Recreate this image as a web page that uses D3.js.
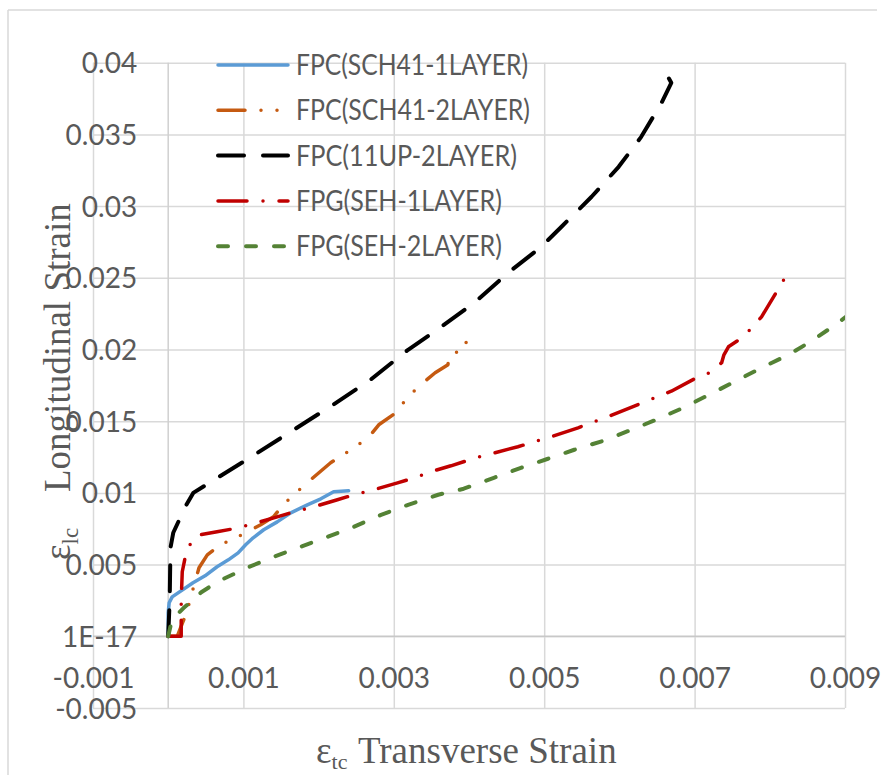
<!DOCTYPE html>
<html>
<head>
<meta charset="utf-8">
<script src="https://cdn.jsdelivr.net/npm/d3@7"></script>
<style>
  html, body { margin: 0; padding: 0; background: #fff; }
  svg { display: block; }
</style>
</head>
<body>
<svg id="chart" width="886" height="775"></svg>
<script>
// ---------------- data ----------------
const xTicks = [-0.001, 0.001, 0.003, 0.005, 0.007, 0.009];
const xTickLabels = ["-0.001", "0.001", "0.003", "0.005", "0.007", "0.009"];
const yTicks = [-0.005, 0, 0.005, 0.01, 0.015, 0.02, 0.025, 0.03, 0.035, 0.04];
const yTickLabels = ["-0.005", "1E-17", "0.005", "0.01", "0.015", "0.02", "0.025", "0.03", "0.035", "0.04"];

const seriesNames = ["FPC(SCH41-1LAYER)", "FPC(SCH41-2LAYER)", "FPC(11UP-2LAYER)", "FPG(SEH-1LAYER)", "FPG(SEH-2LAYER)"];

const sch41_1 = [[0,0],[0,0.00164],[0.000013,0.00234],[0.000053,0.00275],[0.00033,0.00373],[0.00049,0.00422],[0.00065,0.00485],[0.0008,0.00533],[0.00093,0.00582],[0.00103,0.00638],[0.00113,0.00687],[0.00127,0.00743],[0.00145,0.00798],[0.00163,0.00861],[0.00185,0.00917],[0.00203,0.00959],[0.0022,0.01008],[0.0024,0.01015]];

const sch41_2 = [[0,0],[0.00012,0],[0.00019,0.00094],[0.00025,0.00171],[0.00029,0.00255],[0.00035,0.00367],[0.00041,0.00478],[0.00052,0.00568],[0.00069,0.00638],[0.00085,0.00673],[0.00103,0.00722],[0.00123,0.00778],[0.0014,0.00833],[0.00153,0.00917],[0.00167,0.00987],[0.00183,0.01063],[0.00216,0.0121],[0.00249,0.01322],[0.00267,0.01391],[0.0028,0.01475],[0.00299,0.01545],[0.00323,0.01691],[0.00339,0.01768],[0.00355,0.01838],[0.00372,0.01894],[0.00373,0.01949],[0.0038,0.01963],[0.00387,0.01998],[0.00387,0.02033],[0.00407,0.02068]];

const up11_2 = [[0,0],[0.00002,0.00255],[0.00003,0.00617],[0.000067,0.00722],[0.000227,0.00903],[0.000333,0.01],[0.000653,0.01105],[0.001,0.01217],[0.00119,0.0128],[0.00167,0.0144],[0.00219,0.01614],[0.00269,0.01789],[0.00319,0.01998],[0.00363,0.02158],[0.00407,0.02326],[0.00452,0.02535],[0.00496,0.02716],[0.00523,0.02856],[0.00563,0.03065],[0.00599,0.03274],[0.00629,0.03483],[0.00656,0.0372],[0.00669,0.0386],[0.00663,0.03917]];

const seh_1 = [[0,0],[0.000173,0],[0.000173,0.00255],[0.000187,0.0045],[0.000227,0.00554],[0.00029,0.00638],[0.00033,0.0068],[0.00043,0.00708],[0.00065,0.00729],[0.00087,0.0075],[0.00109,0.00778],[0.00145,0.00833],[0.00167,0.00868],[0.00189,0.00896],[0.00225,0.00952],[0.00247,0.00987],[0.00269,0.01015],[0.00305,0.0107],[0.00327,0.01105],[0.00349,0.01147],[0.00376,0.01189],[0.00409,0.01245],[0.00465,0.01322],[0.00509,0.01391],[0.00545,0.01454],[0.00589,0.0154],[0.00629,0.01625],[0.00669,0.01709],[0.007,0.01796],[0.0072,0.01838],[0.00736,0.01908],[0.00739,0.01963],[0.00745,0.02019],[0.00759,0.02068],[0.00775,0.02144],[0.00789,0.02228],[0.00809,0.02402],[0.00821,0.02507]];

const seh_2 = [[0,0],[0.00005,0.00115],[0.0002,0.00195],[0.00044,0.00307],[0.00067,0.00385],[0.00105,0.00478],[0.0014,0.00554],[0.00176,0.00624],[0.00212,0.00694],[0.00247,0.00764],[0.00283,0.00847],[0.00319,0.00917],[0.00359,0.00987],[0.00393,0.01029],[0.00433,0.01105],[0.00469,0.01175],[0.00505,0.01238],[0.0054,0.01301],[0.00579,0.01364],[0.00616,0.0144],[0.00652,0.01517],[0.00685,0.01594],[0.00719,0.01684],[0.00753,0.01775],[0.00789,0.01873],[0.00825,0.01963],[0.00856,0.02061],[0.00887,0.02172],[0.00903,0.02235]];

// ---------------- styles ----------------
const styles = [
  { color: "#5B9BD5", width: 3.5, dash: null },
  { color: "#C55A11", width: 3.5, dash: "27,16,0,16,0,17" },
  { color: "#000000", width: 4,   dash: "26,19" },
  { color: "#C00000", width: 3.5, dash: "29,16,0,16" },
  { color: "#548235", width: 4,   dash: "10,18" }
];
const allSeries = [sch41_1, sch41_2, up11_2, seh_1, seh_2];

// ---------------- layout ----------------
const svg = d3.select("#chart");
const plot = { left: 93, right: 845, top: 62.7, bottom: 708 };
const x = d3.scaleLinear().domain([-0.001, 0.009]).range([plot.left, plot.right]);
const y = d3.scaleLinear().domain([-0.005, 0.04]).range([plot.bottom, plot.top]);

const tickFont = "Lato, 'Open Sans', sans-serif";
const textColor = "#595959";
const gridColor = "#d9d9d9";

// chart border (top + left visible)
svg.append("line").attr("x1", 8).attr("y1", 10).attr("x2", 877).attr("y2", 10)
  .attr("stroke", gridColor).attr("stroke-width", 1.5);
svg.append("line").attr("x1", 8).attr("y1", 10).attr("x2", 8).attr("y2", 775)
  .attr("stroke", gridColor).attr("stroke-width", 1.5);

// horizontal gridlines
const gy = svg.append("g").attr("transform", `translate(${plot.left},0)`)
  .call(d3.axisLeft(y).tickValues(yTicks).tickSize(-(plot.right - plot.left)).tickFormat(""));
gy.select(".domain").remove();
gy.selectAll(".tick line").attr("stroke", gridColor).attr("stroke-width", 1.5);

// vertical gridlines
const gx = svg.append("g").attr("transform", `translate(0,${plot.bottom})`)
  .call(d3.axisBottom(x).tickValues(xTicks).tickSize(-(plot.bottom - plot.top)).tickFormat(""));
gx.select(".domain").remove();
gx.selectAll(".tick line").attr("stroke", gridColor).attr("stroke-width", 1.5);

// axis lines at zero
svg.append("line").attr("x1", x(0)).attr("x2", x(0)).attr("y1", plot.top).attr("y2", plot.bottom)
  .attr("stroke", "#d0d0d0").attr("stroke-width", 1.5);
svg.append("line").attr("x1", plot.left).attr("x2", plot.right).attr("y1", y(0)).attr("y2", y(0))
  .attr("stroke", "#c8c8c8").attr("stroke-width", 1.5);

// y tick labels (next to y axis at x=0)
const ya = svg.append("g").attr("transform", `translate(${x(0)},0)`)
  .call(d3.axisLeft(y).tickValues(yTicks).tickSize(0).tickPadding(31)
    .tickFormat((d, i) => yTickLabels[i]));
ya.select(".domain").remove();
ya.selectAll("text").attr("font-family", tickFont).attr("font-size", 28)
  .attr("fill", textColor).attr("dy", "0.36em");

// x tick labels
const xa = svg.append("g").attr("transform", `translate(0,${y(0)})`)
  .call(d3.axisBottom(x).tickValues(xTicks).tickSize(0).tickFormat((d, i) => xTickLabels[i]));
xa.select(".domain").remove();
xa.selectAll("text").attr("font-family", tickFont).attr("font-size", 28)
  .attr("fill", textColor).attr("dy", null).attr("y", 688 - y(0));

// clip
svg.append("clipPath").attr("id", "clip").append("rect")
  .attr("x", plot.left).attr("y", plot.top - 20)
  .attr("width", plot.right - plot.left).attr("height", plot.bottom - plot.top + 20);

// series
const line = d3.line().x(d => x(d[0])).y(d => y(d[1]));
const lines = svg.append("g").attr("clip-path", "url(#clip)");
allSeries.forEach((s, i) => {
  const st = styles[i];
  lines.append("path").datum(s).attr("d", line)
    .attr("fill", "none").attr("stroke", st.color).attr("stroke-width", st.width)
    .attr("stroke-linecap", "round").attr("stroke-linejoin", "round")
    .attr("stroke-dasharray", st.dash);
});

// legend
const legendTargets = [232, 234, 221, 206, 206];
const lg = svg.append("g");
seriesNames.forEach((name, i) => {
  const st = styles[i];
  const ly = 65 + i * 45.3;
  lg.append("line").attr("x1", 218).attr("x2", 288).attr("y1", ly).attr("y2", ly)
    .attr("stroke", st.color).attr("stroke-width", st.width)
    .attr("stroke-linecap", "round").attr("stroke-dasharray", st.dash);
  const t = lg.append("text").attr("x", 296).attr("y", ly).attr("dy", "0.36em")
    .attr("font-family", tickFont).attr("font-size", 28).attr("fill", textColor).text(name);
  const w = t.node().getComputedTextLength();
  if (w > legendTargets[i] * 1.02) {
    t.attr("textLength", legendTargets[i]).attr("lengthAdjust", "spacingAndGlyphs");
  }
});

// axis titles
const serif = "'Liberation Serif', 'Times New Roman', serif";
const xt = svg.append("text").attr("font-family", serif).attr("fill", textColor).attr("font-size", 37)
  .attr("x", 316).attr("y", 763);
xt.append("tspan").text("ε");
xt.append("tspan").attr("font-size", 22).attr("dy", 6).text("tc");
xt.append("tspan").attr("x", 358).attr("dy", -6).text("Transverse Strain");

const ytl = svg.append("text").attr("font-family", serif).attr("fill", textColor).attr("font-size", 37)
  .attr("transform", "rotate(-90)").attr("x", -560).attr("y", 70);
ytl.append("tspan").text("ε");
ytl.append("tspan").attr("font-size", 23).attr("dy", 8).text("lc");
ytl.append("tspan").attr("x", -492).attr("dy", -8).text("Longitudinal Strain");
</script>
</body>
</html>
